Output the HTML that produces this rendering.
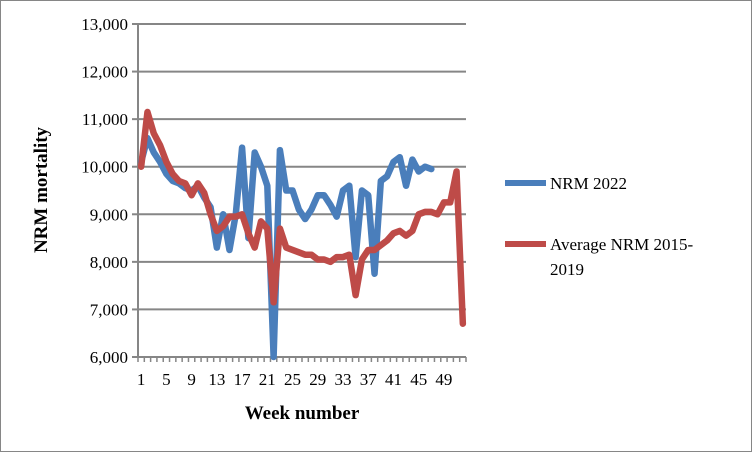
<!DOCTYPE html>
<html><head><meta charset="utf-8"><style>
body{margin:0;background:#fff}
svg{display:block;font-family:"Liberation Serif",serif}
</style></head><body>
<svg width="752" height="452">
<rect x="0.5" y="0.5" width="751" height="451" fill="#fff" stroke="#868686"/>
<g id="grid"></g><g id="axes"></g><g id="series"></g>
<text x="0" y="0" transform="translate(47,190) rotate(-90)" text-anchor="middle" font-size="19" font-weight="bold">NRM mortality</text>
<text x="302" y="419" text-anchor="middle" font-size="19" font-weight="bold">Week number</text>
<g>
<g><line x1="505" y1="183" x2="546" y2="183" stroke="#4a7ebb" stroke-width="6"/><text x="550" y="189" font-size="17">NRM 2022</text></g>
<g><line x1="505" y1="244" x2="546" y2="244" stroke="#be4b48" stroke-width="6"/><text x="550" y="250" font-size="17">Average NRM 2015-</text><text x="550" y="275" font-size="17">2019</text></g>
</g>
</svg>
<script>
const weeks=[];for(let i=1;i<=52;i++)weeks.push(i);
const nrm2022=[10100,10600,10300,10100,9850,9700,9650,9550,9500,9600,9350,9150,8300,9000,8250,9000,10400,8500,10300,10000,9600,6000,10350,9500,9500,9100,8900,9100,9400,9400,9200,8950,9500,9600,8100,9500,9400,7750,9700,9800,10100,10200,9600,10150,9900,10000,9950];
const avg1519=[10000,11150,10700,10450,10100,9850,9700,9650,9400,9650,9450,9000,8650,8750,8950,8950,9000,8600,8300,8850,8700,7150,8700,8300,8250,8200,8150,8150,8050,8050,8000,8100,8100,8150,7300,8050,8250,8250,8350,8450,8600,8650,8550,8650,9000,9050,9050,9000,9250,9250,9900,6700];
const yTicks=[6000,7000,8000,9000,10000,11000,12000,13000];
const xLabels=[1,5,9,13,17,21,25,29,33,37,41,45,49];
const NS='http://www.w3.org/2000/svg';
const X0=138,X1=466,Y0=357,Y1=24,YMIN=6000,YMAX=13000;
const step=(X1-X0)/weeks.length;
const x=w=>X0+(w-0.5)*step;
const y=v=>Y0-(v-YMIN)/(YMAX-YMIN)*(Y0-Y1);
function mk(t,a,p){const e=document.createElementNS(NS,t);for(const k in a)e.setAttribute(k,a[k]);p.appendChild(e);return e;}
const grid=document.getElementById('grid'),axes=document.getElementById('axes'),ser=document.getElementById('series');
yTicks.forEach(v=>{
 const l=mk('line',{x1:X0,x2:X1,y1:y(v),y2:y(v),stroke:'#868686','stroke-width':2},grid);
 
 
 mk('line',{x1:X0-6,x2:X0,y1:y(v),y2:y(v),stroke:'#868686','stroke-width':2},axes);
 const t=mk('text',{x:X0-10,y:y(v)+6,'text-anchor':'end','font-size':17},axes);
 t.textContent=v.toLocaleString('en-US');
 
 
});
const ya=mk('line',{x1:X0,x2:X0,y1:Y1,y2:Y0,stroke:'#868686','stroke-width':2},axes);


const xa=mk('line',{x1:X0,x2:X1,y1:Y0,y2:Y0,stroke:'#868686','stroke-width':2},axes);


for(let i=0;i<=weeks.length;i++)mk('line',{x1:X0+i*step,x2:X0+i*step,y1:Y0,y2:Y0+5,stroke:'#868686','stroke-width':1.5},axes);
xLabels.forEach(w=>{
 const t=mk('text',{x:x(w),y:Y0+28,'text-anchor':'middle','font-size':17},axes);
 t.textContent=w;
 
 
});
function line(vals,color,name){
 const p=mk('polyline',{points:vals.map((v,i)=>x(weeks[i])+','+y(v)).join(' '),fill:'none',stroke:color,'stroke-width':6.5,'stroke-linejoin':'round','stroke-linecap':'round'},ser);
 
 
}
line(nrm2022,'#4a7ebb','series-nrm-2022');
line(avg1519,'#be4b48','series-average-nrm-2015-2019');
</script>
</body></html>
